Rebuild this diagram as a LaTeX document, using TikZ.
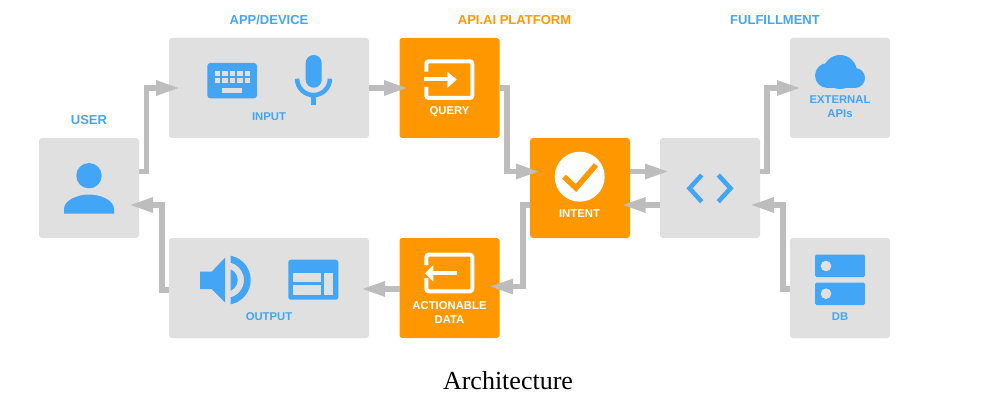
\documentclass[tikz,border=0pt]{standalone}
\usepackage{fontspec}
\setmainfont{Liberation Serif}
\newfontfamily\labelfont{Liberation Sans}
\usetikzlibrary{arrows.meta}
\definecolor{boxgray}{HTML}{E0E0E0}
\definecolor{flowgray}{HTML}{BDBDBD}
\definecolor{iconblue}{HTML}{42A5F5}
\definecolor{apiorange}{HTML}{FF9800}
\tikzset{
	graybox/.style={fill=boxgray,rounded corners=3pt,minimum height=100pt,minimum width=100pt,inner sep=0pt,outer sep=0pt},
	orangebox/.style={graybox,fill=apiorange},
	flow/.style={draw=flowgray,line width=5.5pt,-{Triangle[length=24pt,width=14pt]}},
	headlabel/.style={font=\labelfont\bfseries\fontsize{13}{15}\selectfont,text=iconblue},
	boxlabel/.style={font=\labelfont\bfseries\fontsize{11.3}{14}\selectfont,text=iconblue,align=center},
	whitelabel/.style={boxlabel,text=white},
	frameline/.style={draw=white,line width=4pt,rounded corners=2.5pt}
}
\begin{document}
\begin{tikzpicture}[x=1pt,y=1pt]
	\useasboundingbox (0,0) rectangle (985,405);
	% boxes
	\node[graybox] (user) at (89,217) {};
	\node[graybox,minimum width=200pt] (input) at (269,317) {};
	\node[graybox,minimum width=200pt] (output) at (269,117) {};
	\node[orangebox] (query) at (449.5,317) {};
	\node[orangebox] (action) at (449.5,117) {};
	\node[orangebox] (intent) at (580,217) {};
	\node[graybox] (code) at (710,217) {};
	\node[graybox] (external) at (840,317) {};
	\node[graybox] (db) at (840,117) {};
	% texts
	\node[headlabel] (userhead) at (89,285) {USER};
	\node[headlabel] (apphead) at (269,385) {APP/DEVICE};
	\node[headlabel,text=apiorange] (apihead) at (514.5,385) {API.AI PLATFORM};
	\node[headlabel] (fulfilhead) at (775,385) {FULFILLMENT};
	\node[boxlabel] (inputtext) at (269,288) {INPUT};
	\node[boxlabel] (outputtext) at (269,88.3) {OUTPUT};
	\node[whitelabel] (querytext) at (449.5,293) {QUERY};
	\node[whitelabel] (actiontext) at (449.5,92.3) {ACTIONABLE\\DATA};
	\node[whitelabel] (intenttext) at (579.5,191.7) {INTENT};
	\node[boxlabel] (externaltext) at (840,298) {EXTERNAL\\APIs};
	\node[boxlabel] (dbtext) at (840,88.3) {DB};
	\node[font=\fontsize{26}{30}\selectfont] (caption) at (508,24) {Architecture};
	% user icon
	\fill[iconblue] (89,229.3) circle (12.7);
	\fill[iconblue] (64,191.3) -- (64,196) .. controls (64,205) and (78,210.5) .. (89,210.5) .. controls (100,210.5) and (114,205) .. (114,196) -- (114,191.3) -- cycle;
	% keyboard
	\fill[iconblue,rounded corners=3pt] (207.3,306.7) rectangle (257,342);
	\foreach \i in {0,...,4}
		\foreach \j in {0,1}
			\fill[boxgray] ({214.7+7.5*\i},{328.8-7.3*\j}) rectangle ++(5.5,5.5);
	\fill[boxgray] (222.3,311.7) rectangle (242,316.7);
	% microphone
	\fill[iconblue,rounded corners=7.9pt] (305.7,317.3) rectangle (321.7,350);
	\draw[iconblue,line width=4.5pt] (297.1,326.3) arc (180:360:16.4);
	\draw[iconblue,line width=5.3pt] (313.5,309.9) -- (313.5,300);
	% speaker
	\fill[iconblue] (200,133.3) -- (211.7,133.3) -- (225,147.3) -- (225,102.7) -- (211.7,116) -- (200,116) -- cycle;
	\fill[iconblue] (230.7,135.7) arc (66.3:-66.3:11.7) -- cycle;
	\fill[iconblue] (230.7,149.3) arc (79:-79:24.75) -- (230.7,107.6) arc (-74.9:74.9:18) -- cycle;
	% table
	\fill[iconblue,rounded corners=2.5pt] (288.3,105.3) rectangle (338.3,145.3);
	\fill[boxgray] (293.3,122.7) rectangle (321,132.3);
	\fill[boxgray] (293.3,110) rectangle (321,120);
	\fill[boxgray] (324,110) rectangle (333.3,132.3);
	% query icon
	\draw[frameline] (426.3,333.3) -- (426.3,343.7) -- (472.3,343.7) -- (472.3,307) -- (426.3,307) -- (426.3,318);
	\draw[white,line width=4pt] (424.3,325.7) -- (452,325.7);
	\fill[white] (447.3,333.3) -- (456.7,325.5) -- (447.3,317) -- cycle;
	% actionable data icon
	\draw[frameline] (426.3,140) -- (426.3,150.3) -- (472.3,150.3) -- (472.3,113.7) -- (426.3,113.7) -- (426.3,127);
	\draw[white,line width=4pt] (456.7,131.7) -- (430,131.7);
	\fill[white] (433.3,140) -- (425,131.7) -- (433.3,123.3) -- cycle;
	% intent icon
	\fill[white] (579.7,228.3) circle (25);
	\draw[apiorange,line width=5.5pt] (564,228.3) -- (576,217) -- (596,240);
	% code icon
	\draw[iconblue,line width=4.5pt] (701.7,230) -- (689.5,216.7) -- (701.7,203.3);
	\draw[iconblue,line width=4.5pt] (718.3,230) -- (730.5,216.7) -- (718.3,203.3);
	% cloud
	\fill[iconblue] (827.5,329.5) circle (12.5);
	\fill[iconblue] (855,327) circle (10);
	\fill[iconblue] (840,333) circle (17);
	\fill[iconblue] (827.5,317) rectangle (855,330);
	% db icon
	\fill[iconblue,rounded corners=1.5pt] (815,128) rectangle (865,150.3);
	\fill[iconblue,rounded corners=1.5pt] (815,100) rectangle (865,122.3);
	\fill[boxgray] (826,139) circle (5.3);
	\fill[boxgray] (826,111.3) circle (5.3);
	% connectors
	\draw[flow] ([yshift=16.5pt]user.east) -- ++(7.5,0) |- ([xshift=11pt]input.west);
	\draw[flow] (input.east) -- ([xshift=8.5pt]query.west);
	\draw[flow] (query.east) -- ++(7.5,0) |- ([xshift=10pt,yshift=16.5pt]intent.west);
	\draw[flow] ([yshift=16.5pt]intent.east) -- ([xshift=9pt,yshift=16.5pt]code.west);
	\draw[flow] ([yshift=-17pt]code.west) -- ([xshift=-8.5pt,yshift=-17pt]intent.east);
	\draw[flow] ([yshift=-17pt]intent.west) -- ++(-7,0) |- ([xshift=-10.5pt,yshift=1.5pt]action.east);
	\draw[flow] ([yshift=-1pt]action.west) -- ([xshift=-8pt,yshift=-1pt]output.east);
	\draw[flow] ([yshift=-2pt]output.west) -- ++(-7,0) |- ([xshift=-10pt,yshift=-17pt]user.east);
	\draw[flow] ([yshift=16.5pt]code.east) -- ++(7,0) |- ([xshift=11pt]external.west);
	\draw[flow] ([yshift=-1pt]db.west) -- ++(-7,0) |- ([xshift=-10pt,yshift=-17pt]code.east);
\end{tikzpicture}
\end{document}
